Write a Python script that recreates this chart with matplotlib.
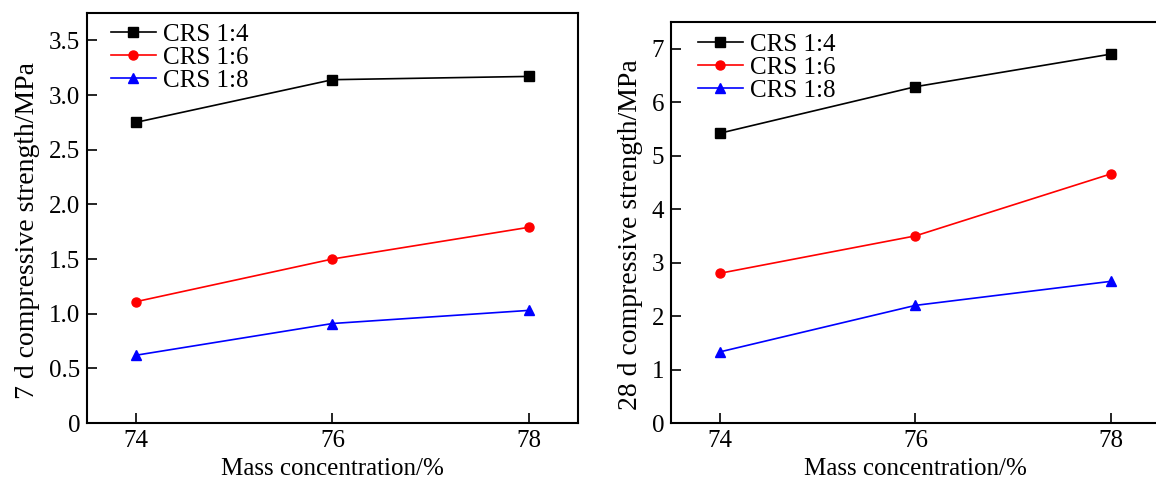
import numpy as np
import matplotlib
matplotlib.use("Agg")
import matplotlib.pyplot as plt
from matplotlib.ticker import FuncFormatter

plt.rcParams['font.family'] = ['Liberation Serif', 'DejaVu Serif']
plt.rcParams['font.size'] = 18

conc = [74, 76, 78]
labels = ['CRS 1:4', 'CRS 1:6', 'CRS 1:8']

# 7 d compressive strength (MPa)
s7_14 = [2.75, 3.14, 3.17]
s7_16 = [1.11, 1.50, 1.79]
s7_18 = [0.62, 0.91, 1.03]

# 28 d compressive strength (MPa)
s28_14 = [5.42, 6.29, 6.90]
s28_16 = [2.80, 3.50, 4.66]
s28_18 = [1.33, 2.20, 2.65]

styles = [('black', 's', 6.5), ('red', 'o', 6.5), ('blue', '^', 6.5)]

fig = plt.figure(figsize=(11.56, 4.86), dpi=100)
ax1 = fig.add_axes([87/1156, 63/486, 491/1156, 410/486])
ax2 = fig.add_axes([671/1156, 63/486, 489/1156, 401/486])


def draw(ax, series, ylim, yticks, ylabel, fmt, anchor):
    for vals, lab, (c, m, ms) in zip(series, labels, styles):
        ax.plot(conc, vals, color=c, marker=m, markersize=ms, lw=1.2, label=lab)
    ax.set_xlim(73.5, 78.5)
    ax.set_xticks(conc)
    ax.set_ylim(*ylim)
    ax.set_yticks(yticks)
    ax.yaxis.set_major_formatter(FuncFormatter(fmt))
    ax.tick_params(direction='in', length=7, width=1.2, pad=5, labelsize=18)
    for sp in ax.spines.values():
        sp.set_linewidth(1.5)
    ax.set_xlabel('Mass concentration/%', fontsize=18, labelpad=4)
    ax.set_ylabel(ylabel, fontsize=20, labelpad=6)
    ax.yaxis.label.set_y(0.47)
    ax.legend(loc='upper left', bbox_to_anchor=anchor, frameon=False,
              borderpad=0, borderaxespad=0, handlelength=1.8,
              handletextpad=0.3, labelspacing=0.03, fontsize=18)


draw(ax1, [s7_14, s7_16, s7_18], (0, 3.75), np.arange(0, 3.51, 0.5),
     '7 d compressive strength/MPa',
     lambda v, p: '0' if abs(v) < 1e-9 else '%.1f' % v, (0.048, 0.975))
draw(ax2, [s28_14, s28_16, s28_18], (0, 7.5), range(0, 8),
     '28 d compressive strength/MPa',
     lambda v, p: '%d' % round(v), (0.055, 0.972))

fig.savefig('out.png', dpi=100)
